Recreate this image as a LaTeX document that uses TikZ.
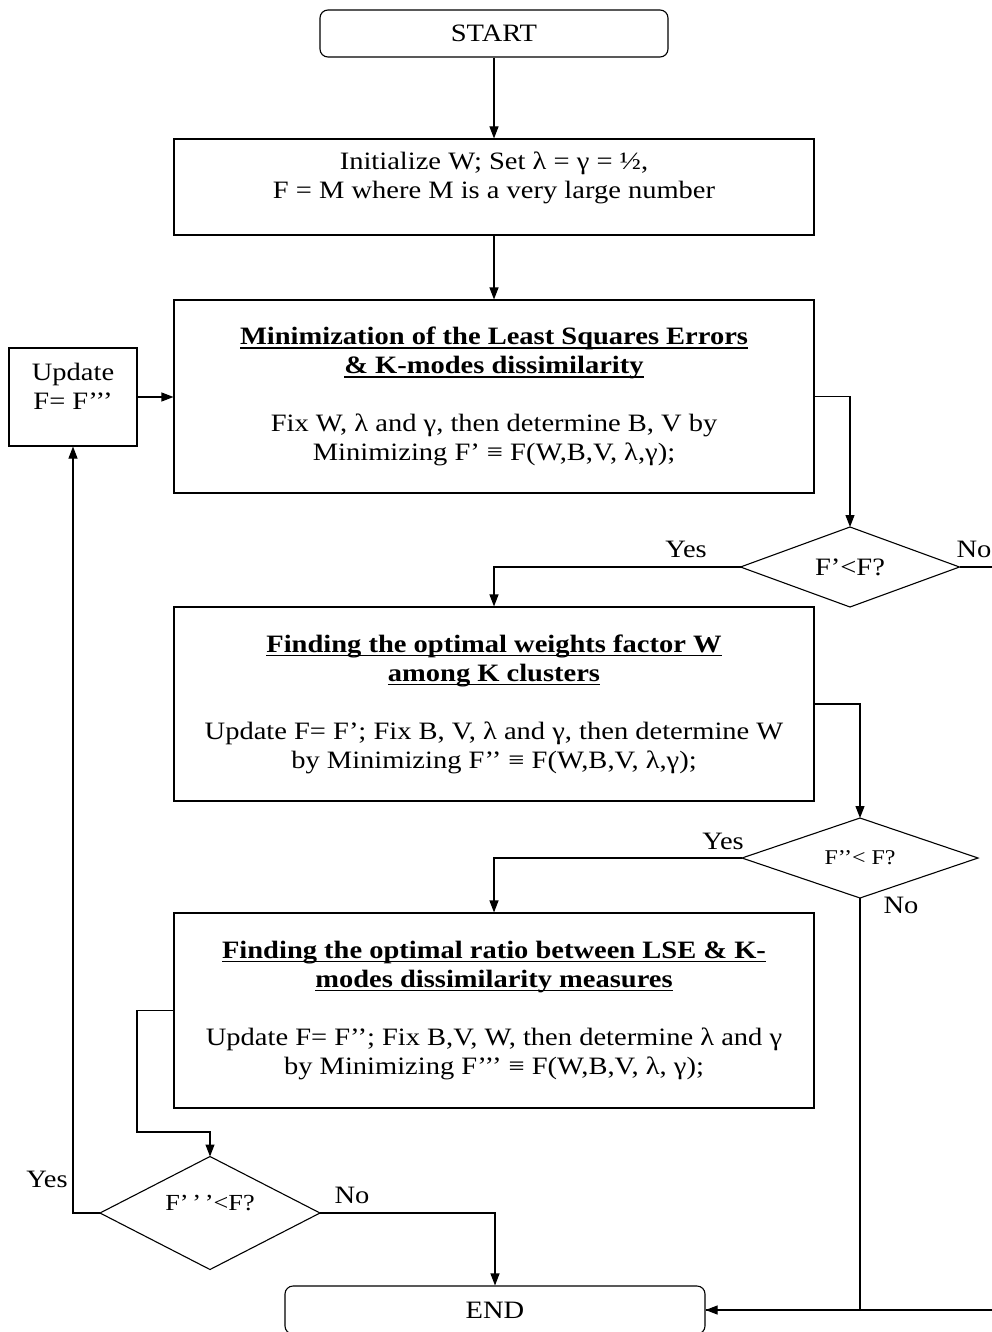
\documentclass[tikz,border=0pt]{standalone}
\usepackage{fontspec}
\setmainfont[FakeStretch=1.14]{Liberation Serif}
\usepackage{tikz}
\usetikzlibrary{positioning, shapes.geometric, arrows.meta, calc}
\newcommand{\ulhead}[1]{\setbox0\hbox{\textbf{#1}}\rlap{\vrule width\wd0 height -2.5pt depth 4pt}\box0}

\begin{document}
\begin{tikzpicture}[x=1pt, y=-1pt, line width=1.1pt,
    every node/.style={font=\fontsize{25}{29}\selectfont},
    termbox/.style={draw, rectangle, rounded corners=8pt, minimum height=47pt},
    procbox/.style={draw, rectangle, minimum width=640pt, align=center, inner sep=0pt},
    decision/.style={draw, diamond, inner sep=0pt, outer sep=0pt},
    flow/.style={-{Triangle[length=12pt,width=9pt]}},
    lbl/.style={inner sep=0pt}]
    \useasboundingbox (0,0) rectangle (992,1332);

    % boxes
    \node[termbox, minimum width=348pt] (start) at (494,33.5) {START};
    \node[procbox, minimum height=96pt] (init) at (494,187) {};
    \node[align=center] (inittxt) at ([yshift=9pt]init.center) {Initialize W; Set λ = γ = ½,\\ F = M where M is a very large number};
    \node[procbox, minimum height=193pt] (minerr) at (494,396.5) {\ulhead{Minimization of the Least Squares Errors}\\ \ulhead{\& K-modes dissimilarity}\\[29pt] Fix W, λ and γ, then determine B, V by\\ Minimizing F’ ≡ F(W,B,V, λ,γ);};
    \node[procbox, minimum height=194pt] (weights) at (494,704) {\ulhead{Finding the optimal weights factor W}\\ \ulhead{among K clusters}\\[29pt] Update F= F’; Fix B, V, λ and γ, then determine W\\ by Minimizing F’’ ≡ F(W,B,V, λ,γ);};
    \node[procbox, minimum height=195pt] (ratio) at (494,1010.5) {\ulhead{Finding the optimal ratio between LSE \& K-}\\ \ulhead{modes dissimilarity measures}\\[29pt] Update F= F’’; Fix B,V, W, then determine λ and γ\\ by Minimizing F’’’ ≡ F(W,B,V, λ, γ);};
    \node[draw, minimum width=128pt, minimum height=98pt] (update) at (73,397) {};
    \node[align=center] (updtxt) at ([yshift=11pt]update.center) {Update\\ F= F’’’};
    \node[termbox, minimum width=420pt, minimum height=48pt] (end) at (495,1310) {END};

    % decisions
    \node[decision, minimum width=219pt, minimum height=80pt, aspect=2.74] (test1) at (850,567) {F’<F?};
    \node[decision, minimum width=236pt, minimum height=80pt, aspect=2.95, font=\fontsize{21}{24}\selectfont] (test2) at (860,858) {F’’< F?};
    \node[decision, minimum width=220pt, minimum height=113pt, aspect=1.95, text height=17pt, text depth=22pt, font=\fontsize{23}{26}\selectfont] (test3) at (210,1213) {F’\,’\,’<F?};

    % connectors
    \coordinate (rail) at (1000,567);
    \coordinate (bend) at (137,1132);
    \draw[flow] (start) -- (init);
    \draw[flow] (init) -- (minerr);
    \draw[flow] (update.east) -- (update.east -| minerr.west);
    \draw[flow] (minerr.east) -| (test1.north);
    \draw[flow] (test1.west) -| (weights.north);
    \draw[flow] (test1.east) -- (rail) |- (end.east);
    \draw[flow] (weights.east) -| (test2.north);
    \draw[flow] (test2.west) -| (ratio.north);
    \draw (test2.south) |- (end.east);
    \draw[flow] (ratio.west) -| (bend) -| (test3.north);
    \draw[flow] (test3.west) -| (update.south);
    \draw[flow] (test3.east) -| (end.north);

    % labels
    \node[lbl] (yes1) at (686,549) {Yes};
    \node[lbl] (no1) at (974,549) {No};
    \node[lbl] (yes2) at (723,841) {Yes};
    \node[lbl] (no2) at (901,905) {No};
    \node[lbl] (yes3) at (47,1179) {Yes};
    \node[lbl] (no3) at (352,1195) {No};
\end{tikzpicture}
\end{document}
